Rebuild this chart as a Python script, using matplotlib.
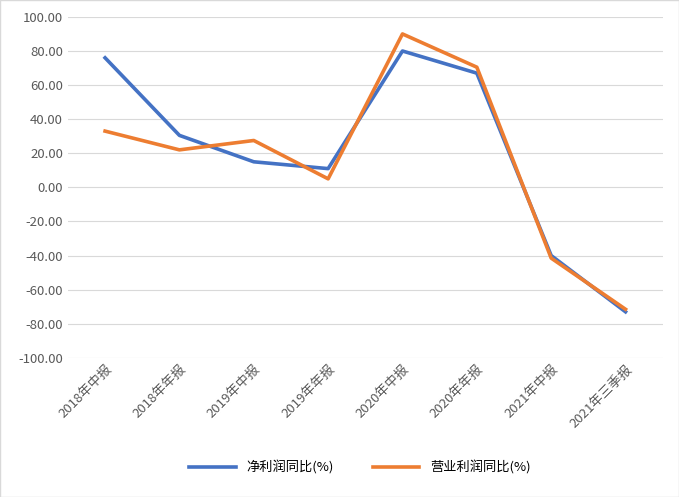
import matplotlib
matplotlib.use("Agg")
import matplotlib.pyplot as plt

plt.rcParams['font.family'] = ['Noto Sans CJK SC', 'DejaVu Sans']

categories = ["2018年中报", "2018年年报", "2019年中报", "2019年年报", "2020年中报", "2020年年报", "2021年中报", "2021年三季报"]
net_profit = [76.0, 30.5, 15.0, 11.0, 80.0, 67.0, -40.0, -73.0]
op_profit = [33.0, 22.0, 27.5, 5.0, 90.0, 70.5, -41.5, -71.5]

fig = plt.figure(figsize=(6.79, 4.97), dpi=100)
ax = fig.add_axes([0.1, 0.28, 0.876, 0.686])
x = range(len(categories))
ax.plot(x, net_profit, color="#4472C4", lw=2.6, label="净利润同比(%)")
ax.plot(x, op_profit, color="#ED7D31", lw=2.6, label="营业利润同比(%)")
ax.set_ylim(-100, 100)
ax.set_yticks(range(-100, 101, 20))
ax.set_yticklabels([f"{v:.2f}" for v in range(-100, 101, 20)], fontsize=9.5, color="#595959")
ax.set_xlim(-0.5, len(categories) - 0.5)
ax.set_xticks(list(x))
ax.set_xticklabels(categories, rotation=45, ha="right", rotation_mode="anchor", fontsize=9.5, color="#595959")
ax.grid(axis="y", color="#D9D9D9", lw=0.8)
ax.set_axisbelow(True)
for s in ax.spines.values():
    s.set_visible(False)
ax.tick_params(length=0)
fig.legend(*ax.get_legend_handles_labels(), loc="center", bbox_to_anchor=(0.53, 0.06), ncol=2, frameon=False, fontsize=9.5, handlelength=3.5, columnspacing=3)
fig.patches.append(plt.Rectangle((0, 0), 1, 1, transform=fig.transFigure, fill=False, edgecolor="#D9D9D9", lw=1))
fig.savefig("out.png", dpi=100)
